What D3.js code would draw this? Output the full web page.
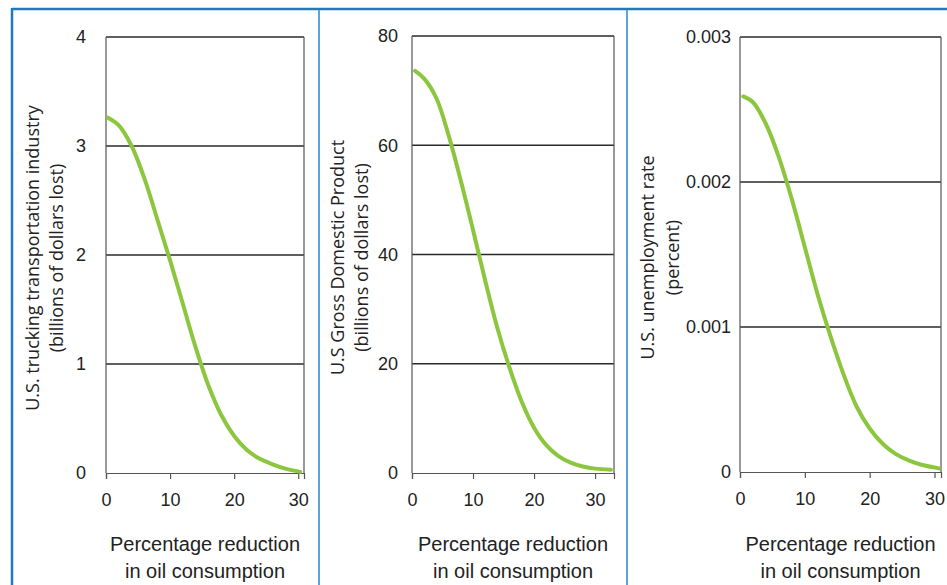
<!DOCTYPE html>
<html>
<head>
<meta charset="utf-8">
<script src="https://cdn.jsdelivr.net/npm/d3@7"></script>
<style>
  body { margin: 0; background: #fff; }
  svg { display: block; }
</style>
</head>
<body>
<svg id="chart" width="947" height="585"></svg>
<script>
// values
const xTicks = [0, 10, 20, 30];
const xTitle = ['Percentage reduction', 'in oil consumption'];

const truckX = [0.3, 2, 4, 6, 8, 10, 12, 14, 16, 18, 20, 22, 24, 26, 28, 30.3];
const truckY = [3.26, 3.19, 3.0, 2.7, 2.33, 1.95, 1.55, 1.15, 0.8, 0.53, 0.34, 0.21, 0.13, 0.08, 0.04, 0.01];
const truckTicks = [0, 1, 2, 3, 4];
const truckTitle = ['U.S. trucking transportation industry', '(billions of dollars lost)'];

const gdpX = [0.5, 2, 4, 6, 8, 10, 12, 14, 16, 18, 20, 22, 24, 26, 28, 30, 32.6];
const gdpY = [73.6, 72.2, 68.6, 61.8, 53.5, 44.5, 35.2, 26.5, 19.2, 13.0, 8.3, 5.1, 3.1, 1.9, 1.2, 0.8, 0.6];
const gdpTicks = [0, 20, 40, 60, 80];
const gdpTitle = ['U.S Gross Domestic Product', '(billions of dollars lost)'];

const jobsX = [0.5, 2, 4, 6, 8, 10, 12, 14, 16, 18, 20, 22, 24, 26, 28, 30.7];
const jobsY = [0.00259, 0.00255, 0.0024, 0.00217, 0.00188, 0.00155, 0.00122, 0.00093, 0.00067, 0.00045, 0.0003, 0.000195, 0.000125, 0.00008, 0.00005, 0.000025];
const jobsTicks = [0, 0.001, 0.002, 0.003];
const jobsTitle = ['U.S. unemployment rate', '(percent)'];

const GREEN = '#8cc63f';
const svg = d3.select('#chart');

// blue panel frame
const frame = svg.append('g');
frame.append('line').attr('x1', 12).attr('x2', 947).attr('y1', 9).attr('y2', 9)
  .attr('stroke', '#1c7bc3').attr('stroke-width', 2.5);
frame.append('line').attr('x1', 12).attr('x2', 12).attr('y1', 8).attr('y2', 585)
  .attr('stroke', '#1c7bc3').attr('stroke-width', 2.5);
[319, 627].forEach(x => {
  frame.append('line').attr('x1', x).attr('x2', x).attr('y1', 10).attr('y2', 585)
    .attr('stroke', '#5ea2dc').attr('stroke-width', 2);
});

const panels = [
  { xs: truckX, ys: truckY, ticks: truckTicks, title: truckTitle,
    left: 106, right: 304, top: 37, bottom: 473, xMax: 30.9, yMax: 4,
    labelX: 86, titleX: [33, 57], fmt: d => d },
  { xs: gdpX, ys: gdpY, ticks: gdpTicks, title: gdpTitle,
    left: 412, right: 614, top: 36, bottom: 473, xMax: 33.1, yMax: 80,
    labelX: 398, titleX: [338, 362], fmt: d => d },
  { xs: jobsX, ys: jobsY, ticks: jobsTicks, title: jobsTitle,
    left: 740, right: 941, top: 37, bottom: 472, xMax: 31.0, yMax: 0.003,
    labelX: 731, titleX: [648, 673], fmt: d => d === 0 ? '0' : d3.format('.3f')(d) },
];

panels.forEach(p => {
  const x = d3.scaleLinear().domain([0, p.xMax]).range([p.left, p.right]);
  const y = d3.scaleLinear().domain([0, p.yMax]).range([p.bottom, p.top]);
  const g = svg.append('g');

  // gridlines (incl. top edge)
  g.append('g').selectAll('line').data(p.ticks.filter(t => t > 0)).join('line')
    .attr('x1', p.left).attr('x2', p.right)
    .attr('y1', d => y(d)).attr('y2', d => y(d))
    .attr('stroke', '#2a2a2a').attr('stroke-width', 1.3);

  // left / right sides
  [p.left, p.right].forEach(xx => {
    g.append('line').attr('x1', xx).attr('x2', xx).attr('y1', p.top).attr('y2', p.bottom)
      .attr('stroke', '#555').attr('stroke-width', 1.2);
  });

  // bottom axis
  const xAxis = d3.axisBottom(x).tickValues(xTicks).tickSize(6).tickPadding(14).tickFormat(d => d);
  const ax = g.append('g').attr('transform', `translate(0,${p.bottom})`).call(xAxis);
  ax.select('.domain').attr('stroke', '#555').attr('stroke-width', 1.2);
  ax.selectAll('.tick line').attr('stroke', '#555').attr('stroke-width', 1.2);
  ax.selectAll('.tick text').attr('fill', '#222')
    .style('font-family', '"Liberation Sans", Arial, sans-serif').style('font-size', '18px');

  // y tick labels
  g.append('g').selectAll('text').data(p.ticks).join('text')
    .attr('x', p.labelX).attr('y', d => y(d)).attr('dy', '0.35em')
    .attr('text-anchor', 'end').attr('fill', '#222')
    .style('font-family', '"Liberation Sans", Arial, sans-serif').style('font-size', '18px')
    .text(p.fmt);

  // y title, rotated two lines
  const cy = (p.top + p.bottom) / 2 + 3;
  p.title.forEach((t, i) => {
    g.append('text')
      .attr('transform', `translate(${p.titleX[i]},${cy}) rotate(-90)`)
      .attr('dy', '0.35em').attr('text-anchor', 'middle').attr('fill', '#222')
      .style('font-family', '"Open Sans", "Noto Sans", sans-serif').style('font-size', '18px')
      .text(t);
  });

  // x title
  xTitle.forEach((t, i) => {
    g.append('text')
      .attr('x', (p.left + p.right) / 2).attr('y', 551 + i * 27)
      .attr('text-anchor', 'middle').attr('fill', '#222')
      .style('font-family', '"Liberation Sans", Arial, sans-serif').style('font-size', '20px')
      .text(t);
  });

  // curve
  const pts = p.xs.map((v, i) => [v, p.ys[i]]);
  const line = d3.line().x(d => x(d[0])).y(d => y(d[1])).curve(d3.curveCatmullRom.alpha(0.5));
  g.append('path').datum(pts).attr('d', line)
    .attr('fill', 'none').attr('stroke', GREEN).attr('stroke-width', 4)
    .attr('stroke-linecap', 'round');
});
</script>
</body>
</html>
